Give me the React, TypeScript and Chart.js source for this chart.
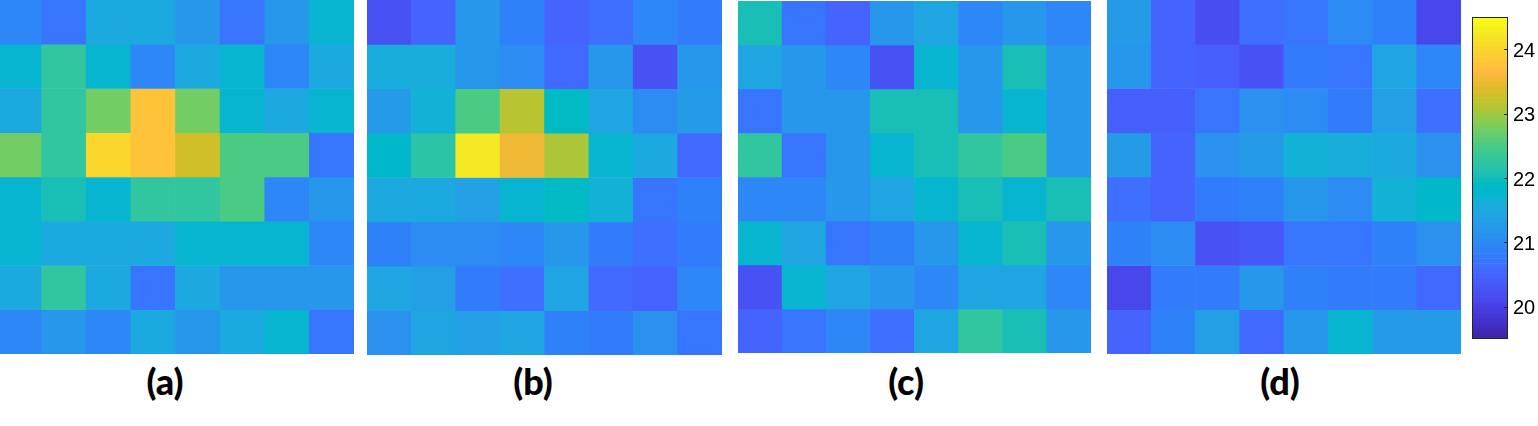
import React, { useEffect, useRef } from "react";
import { Chart, registerables } from "chart.js";

Chart.register(...registerables);

// ---------- data ----------
const columns = ["1", "2", "3", "4", "5", "6", "7", "8"];
const colorMin = 19.5;
const colorMax = 24.5;
const colorbarTicks = [20, 21, 22, 23, 24];
const panelLabels = ["(a)", "(b)", "(c)", "(d)"];

const panelA = [
  [20.95, 20.71, 21.49, 21.49, 21.18, 20.71, 21.18, 21.73],
  [21.73, 22.27, 21.73, 20.95, 21.49, 21.73, 20.95, 21.49],
  [21.49, 22.27, 22.74, 23.76, 22.74, 21.73, 21.49, 21.73],
  [22.74, 22.27, 23.99, 23.76, 23.29, 22.51, 22.51, 20.71],
  [21.73, 22.04, 21.73, 22.27, 22.27, 22.51, 20.95, 21.18],
  [21.73, 21.49, 21.49, 21.49, 21.73, 21.73, 21.73, 20.95],
  [21.49, 22.27, 21.49, 20.71, 21.49, 21.18, 21.18, 21.18],
  [20.95, 21.18, 20.95, 21.49, 21.18, 21.49, 21.73, 20.71],
];

const panelB = [
  [20.24, 20.48, 21.18, 20.87, 20.48, 20.63, 20.95, 20.79],
  [21.57, 21.57, 21.18, 21.02, 20.55, 21.18, 20.24, 21.18],
  [21.26, 21.65, 22.51, 23.13, 21.88, 21.41, 21.02, 21.26],
  [21.80, 22.2, 24.23, 23.52, 23.05, 21.73, 21.49, 20.55],
  [21.49, 21.49, 21.34, 21.73, 21.88, 21.65, 20.71, 20.87],
  [20.87, 21.02, 21.02, 20.95, 21.18, 20.79, 20.63, 20.79],
  [21.41, 21.34, 20.79, 20.63, 21.41, 20.55, 20.48, 20.95],
  [21.10, 21.41, 21.34, 21.41, 20.87, 20.79, 21.10, 20.71],
];

const panelC = [
  [22.04, 20.71, 20.48, 21.18, 21.41, 20.95, 21.18, 20.95],
  [21.41, 21.18, 20.95, 20.24, 21.73, 21.18, 22.04, 21.18],
  [20.71, 21.18, 21.18, 22.04, 22.04, 21.18, 21.73, 21.18],
  [22.27, 20.71, 21.18, 21.73, 22.04, 22.27, 22.51, 21.18],
  [20.95, 20.95, 21.18, 21.41, 21.73, 22.04, 21.73, 22.04],
  [21.73, 21.41, 20.71, 20.87, 21.18, 21.73, 22.04, 21.18],
  [20.24, 21.73, 21.41, 21.18, 20.95, 21.41, 21.41, 20.95],
  [20.48, 20.71, 20.95, 20.63, 21.41, 22.27, 22.04, 21.18],
];

const panelD = [
  [21.26, 20.48, 20.16, 20.63, 20.71, 21.02, 20.87, 20.09],
  [21.18, 20.48, 20.4, 20.24, 20.79, 20.71, 21.41, 20.95],
  [20.4, 20.4, 20.71, 21.1, 21.02, 20.79, 21.34, 20.63],
  [21.26, 20.48, 21.1, 21.26, 21.65, 21.57, 21.49, 21.1],
  [20.63, 20.48, 20.79, 20.87, 21.18, 21.02, 21.65, 21.8],
  [20.87, 21.02, 20.24, 20.32, 20.71, 20.71, 20.87, 21.1],
  [20.09, 20.79, 20.79, 21.18, 20.87, 20.79, 20.79, 20.55],
  [20.48, 20.87, 21.34, 20.55, 21.18, 21.73, 21.26, 21.26],
];

// ---------- colormap (parula, 64 steps) ----------
const PARULA: number[][] = [
  [0.2422, 0.1504, 0.6603], [0.2504, 0.165, 0.7076], [0.2578, 0.1818, 0.7511], [0.2647, 0.1978, 0.7952],
  [0.2706, 0.2147, 0.8364], [0.2751, 0.2342, 0.871], [0.2783, 0.2559, 0.8991], [0.2803, 0.2782, 0.9221],
  [0.2813, 0.3006, 0.9414], [0.281, 0.3228, 0.9579], [0.2795, 0.3447, 0.9717], [0.276, 0.3667, 0.9829],
  [0.2699, 0.3892, 0.9906], [0.2602, 0.4123, 0.9952], [0.244, 0.4358, 0.9988], [0.2206, 0.4603, 0.9973],
  [0.1963, 0.4847, 0.9892], [0.1834, 0.5074, 0.9798], [0.1786, 0.5289, 0.9682], [0.1764, 0.5499, 0.952],
  [0.1687, 0.5703, 0.9359], [0.154, 0.5902, 0.9218], [0.146, 0.6091, 0.9079], [0.138, 0.6276, 0.8973],
  [0.1248, 0.6459, 0.8883], [0.1113, 0.6635, 0.8763], [0.0952, 0.6798, 0.8598], [0.0689, 0.6948, 0.8394],
  [0.0297, 0.7082, 0.8163], [0.0036, 0.7203, 0.7917], [0.0067, 0.7312, 0.766], [0.0433, 0.7411, 0.7394],
  [0.0964, 0.75, 0.712], [0.1408, 0.7584, 0.6842], [0.1717, 0.767, 0.6554], [0.1938, 0.7758, 0.6251],
  [0.2161, 0.7843, 0.5923], [0.247, 0.7918, 0.5567], [0.2906, 0.7973, 0.5188], [0.3406, 0.8008, 0.4789],
  [0.3909, 0.8029, 0.4354], [0.4456, 0.8024, 0.3909], [0.5044, 0.7993, 0.348], [0.5616, 0.7942, 0.3045],
  [0.6174, 0.7876, 0.2612], [0.672, 0.7793, 0.2227], [0.7242, 0.7698, 0.191], [0.7738, 0.7598, 0.1646],
  [0.8203, 0.7498, 0.1535], [0.8634, 0.7406, 0.1596], [0.9035, 0.733, 0.1774], [0.9393, 0.7288, 0.21],
  [0.9728, 0.7298, 0.2394], [0.9956, 0.7434, 0.2371], [0.997, 0.7659, 0.2199], [0.9952, 0.7893, 0.2028],
  [0.9892, 0.8136, 0.1885], [0.9786, 0.8386, 0.1766], [0.9676, 0.8639, 0.1643], [0.961, 0.889, 0.1537],
  [0.9597, 0.9135, 0.1423], [0.9628, 0.9373, 0.1265], [0.9691, 0.9606, 0.1064], [0.9769, 0.9839, 0.0805],
];

function rgb(c: number[]): string {
  return `rgb(${Math.round(c[0] * 255)},${Math.round(c[1] * 255)},${Math.round(c[2] * 255)})`;
}

function valueToColor(v: number): string {
  let i = Math.floor(((v - colorMin) / (colorMax - colorMin)) * PARULA.length);
  if (i < 0) i = 0;
  if (i > PARULA.length - 1) i = PARULA.length - 1;
  return rgb(PARULA[i]);
}

// ---------- components ----------
type PanelProps = { data: number[][]; left: number; top: number; width: number; height: number };

function HeatPanel({ data, left, top, width, height }: PanelProps) {
  const ref = useRef<HTMLCanvasElement>(null);
  useEffect(() => {
    if (!ref.current) return;
    const chart = new Chart(ref.current, {
      type: "bar",
      data: {
        labels: columns,
        datasets: data.map((row, r) => ({
          label: `row ${r + 1}`,
          data: row.map(() => 1),
          backgroundColor: row.map(valueToColor),
          borderWidth: 0,
          barPercentage: 1,
          categoryPercentage: 1,
          stack: "rows",
        })),
      },
      options: {
        animation: false,
        responsive: false,
        devicePixelRatio: 1,
        layout: { padding: 0 },
        plugins: { legend: { display: false }, tooltip: { enabled: false } },
        scales: {
          x: { display: false, stacked: true },
          y: { display: false, stacked: true, reverse: true, min: 0, max: columns.length },
        },
      },
    });
    return () => chart.destroy();
  }, [data, width, height]);
  return (
    <canvas
      ref={ref}
      width={width}
      height={height}
      style={{ position: "absolute", left, top, width, height }}
    />
  );
}

function Colorbar({ left, top, width, height }: { left: number; top: number; width: number; height: number }) {
  const ref = useRef<HTMLCanvasElement>(null);
  useEffect(() => {
    if (!ref.current) return;
    const step = (colorMax - colorMin) / PARULA.length;
    const frame = {
      id: "cbFrame",
      afterDatasetsDraw(chart: any) {
        const { ctx, chartArea } = chart;
        const ys = chart.scales.y;
        ctx.save();
        ctx.strokeStyle = "#262626";
        ctx.lineWidth = 1;
        ctx.strokeRect(
          Math.round(chartArea.left) + 0.5,
          Math.round(chartArea.top) + 0.5,
          Math.round(chartArea.right - chartArea.left) - 1,
          Math.round(chartArea.bottom - chartArea.top) - 1
        );
        for (const v of colorbarTicks) {
          const y = Math.round(ys.getPixelForValue(v)) + 0.5;
          ctx.beginPath();
          ctx.moveTo(chartArea.right - 4, y);
          ctx.lineTo(chartArea.right, y);
          ctx.stroke();
        }
        ctx.restore();
      },
    };
    const chart = new Chart(ref.current, {
      type: "bar",
      data: {
        labels: ["colorbar"],
        datasets: PARULA.map((c, i) => ({
          label: `c${i}`,
          data: [[colorMin + i * step, colorMin + (i + 1) * step]] as any,
          backgroundColor: rgb(c),
          borderWidth: 0,
          barPercentage: 1,
          categoryPercentage: 1,
          grouped: false,
        })),
      },
      options: {
        animation: false,
        responsive: false,
        devicePixelRatio: 1,
        layout: { padding: { top: 4, bottom: 4, left: 0, right: 0 } },
        plugins: { legend: { display: false }, tooltip: { enabled: false } },
        scales: {
          x: { display: false },
          y: {
            position: "right",
            min: colorMin,
            max: colorMax,
            afterBuildTicks: (s: any) => {
              s.ticks = colorbarTicks.map((v) => ({ value: v }));
            },
            afterFit: (s: any) => {
              s.width = 30;
            },
            grid: { display: false, drawTicks: false },
            border: { display: false },
            ticks: {
              padding: 5,
              labelOffset: 2,
              color: "#000",
              font: { family: "'Liberation Sans Narrow', 'Liberation Sans', Arial, sans-serif", size: 20 },
            },
          },
        },
      },
      plugins: [frame],
    });
    return () => chart.destroy();
  }, [width, height]);
  return (
    <canvas
      ref={ref}
      width={width}
      height={height}
      style={{ position: "absolute", left, top, width, height }}
    />
  );
}

const panels = [
  { data: panelA, left: -3, top: 0, width: 357, height: 354, labelX: 165 },
  { data: panelB, left: 367, top: 0, width: 355, height: 355, labelX: 533 },
  { data: panelC, left: 738, top: 1, width: 353, height: 352, labelX: 906 },
  { data: panelD, left: 1107, top: 0, width: 354, height: 354, labelX: 1280 },
];

export default function App() {
  return (
    <div
      style={{
        position: "fixed",
        left: 0,
        top: 0,
        width: 1538,
        height: 426,
        background: "#ffffff",
        overflow: "hidden",
      }}
    >
      {panels.map((p, i) => (
        <HeatPanel key={i} data={p.data} left={p.left} top={p.top} width={p.width} height={p.height} />
      ))}
      <Colorbar left={1472} top={0} width={66} height={356} />
      {panels.map((p, i) => (
        <div
          key={"l" + i}
          style={{
            position: "absolute",
            left: p.labelX - 70,
            top: 360,
            width: 140,
            height: 42,
            lineHeight: "42px",
            textAlign: "center",
            fontFamily: "Lato, 'Open Sans', sans-serif",
            fontWeight: 900,
            fontSize: 36,
            color: "#000",
          }}
        >
          {panelLabels[i]}
        </div>
      ))}
    </div>
  );
}
